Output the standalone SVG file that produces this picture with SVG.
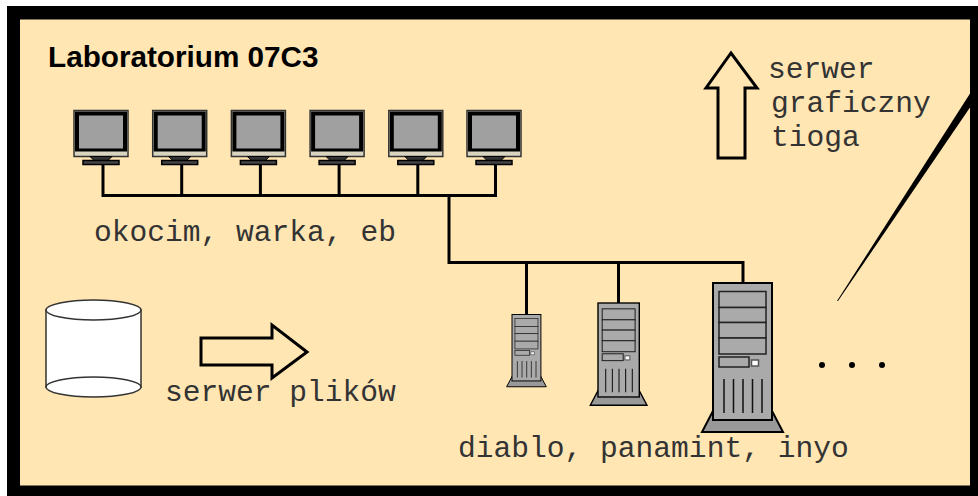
<svg xmlns="http://www.w3.org/2000/svg" width="978" height="496" viewBox="0 0 978 496">
<style>
.m{font-family:"Liberation Mono",monospace;font-size:29.6px;fill:#333}
.t{font-family:"Liberation Sans",Arial,sans-serif;font-size:29.700px;font-weight:bold;fill:#000}
.w{fill:none;stroke:#000;stroke-width:3}
.arr{fill:#ffe6b3;stroke:#000;stroke-width:3}
.db{fill:#fff;stroke:#333;stroke-width:1.5}
</style>
<defs>
<g id="mon">
<rect x="0" y="0" width="54" height="46" fill="#d8d4c0" stroke="#333" stroke-width="1.5"/>
<rect x="1" y="1" width="52" height="40" fill="#000"/>
<rect x="5" y="5" width="44" height="33" fill="#a0a0a0"/>
<path d="M16 46h22l-4 4H20z" fill="#333" stroke="#000" stroke-width="1"/>
<rect x="9" y="50" width="36" height="4" fill="#444" stroke="#000" stroke-width="1.5"/>
</g>
<g id="srv">
<path d="M1 126L-11 149H70L58 126z" fill="#999" stroke="#000" stroke-width="2"/>
<rect x="0" y="0" width="59" height="137" fill="#aaa" stroke="#000" stroke-width="2"/>
<rect x="6" y="8.500" width="47" height="16" fill="#aaa" stroke="#222" stroke-width="1.500"/>
<rect x="6" y="24.500" width="47" height="15" fill="#aaa" stroke="#222" stroke-width="1.500"/>
<rect x="6" y="39.500" width="47" height="15.500" fill="#aaa" stroke="#222" stroke-width="1.500"/>
<rect x="6" y="55" width="47" height="16" fill="#aaa" stroke="#222" stroke-width="1.500"/>
<rect x="6" y="74" width="30" height="10" fill="#aaa" stroke="#222" stroke-width="1.500"/>
<rect x="38.500" y="77" width="7" height="6" fill="#fff" stroke="#555" stroke-width="1.500"/>
<path d="M11 96v34M20.500 96v34M30 96v34M39.500 96v34M49 96v34" fill="none" stroke="#111" stroke-width="1.500"/>
</g>
</defs>
<rect x="0" y="0" width="978" height="496" fill="#fff"/>
<rect x="7" y="6" width="971" height="490" fill="#000"/>
<rect x="20" y="19.500" width="950" height="466" fill="#ffe6b3"/>
<g id="connectors">
<path class="w" d="M103 164V195.500H495.500V164M181.700 164V195.500M260.400 164V195.500M339.100 164V195.500M417.800 164V195.500M449 195.500V262.500H743V283M526.500 262.500V314M618.500 262.500V303"/>
<path d="M837 301L971 92V106L838 301z" fill="#000"/>
</g>
<text class="t" x="48" y="67">Laboratorium 07C3</text>
<g id="okocim"><use href="#mon" x="74" y="110.500"/></g>
<g id="warka"><use href="#mon" x="152.700" y="110.500"/></g>
<g id="eb"><use href="#mon" x="231.400" y="110.500"/></g>
<g id="mon4"><use href="#mon" x="310.100" y="110.500"/></g>
<g id="mon5"><use href="#mon" x="388.800" y="110.500"/></g>
<g id="mon6"><use href="#mon" x="467" y="110.500"/></g>
<text class="m" x="94" y="241">okocim, warka, eb</text>
<g id="graf-arrow"><path class="arr" d="M718 158V88H706L731 53L757 88H745V158z"/></g>
<text class="m" x="768" y="78">serwer</text>
<text class="m" x="771" y="112">graficzny</text>
<text class="m" x="771" y="146">tioga</text>
<g id="storage">
<path class="db" d="M46 310V387H141V310z"/>
<ellipse class="db" cx="93.500" cy="310" rx="47.500" ry="10"/>
<ellipse class="db" cx="93.500" cy="387" rx="47.500" ry="10"/>
</g>
<g id="plik-arrow"><path class="arr" d="M201 338H272V325L307 352L272 378V365H201z"/></g>
<text class="m" x="165" y="401">serwer plików</text>
<g id="diablo"><use href="#srv" transform="translate(512 314.500) scale(.49 .485)"/></g>
<g id="panamint"><use href="#srv" transform="translate(598 303) scale(.7 .686)"/></g>
<g id="inyo"><use href="#srv" x="713" y="283"/></g>
<g id="dots" fill="#000"><circle cx="822" cy="365" r="3"/><circle cx="852" cy="365" r="3"/><circle cx="882" cy="365" r="3"/></g>
<text class="m" x="458" y="457">diablo, panamint, inyo</text>
</svg>
